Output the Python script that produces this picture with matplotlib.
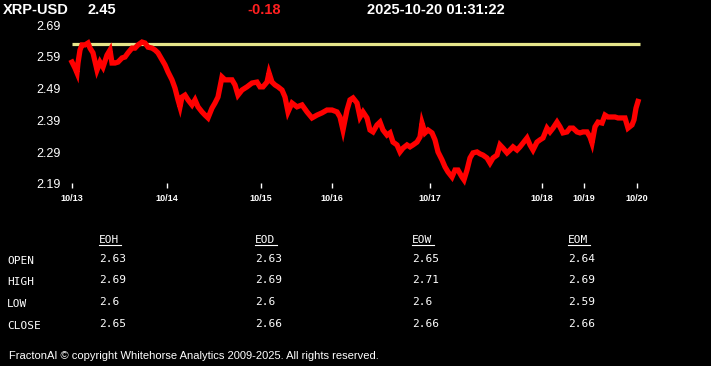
import matplotlib
matplotlib.use("Agg")
import matplotlib.pyplot as plt
from matplotlib.lines import Line2D

# ---------------- data ----------------
symbol = "XRP-USD"
last_price = "2.45"
change = "-0.18"
timestamp = "2025-10-20 01:31:22"

obs = [0, 3, 5, 6, 8, 10, 13, 16, 18, 21, 25, 28, 31, 35, 38, 40, 43, 46, 50, 53,
       56, 60, 63, 66, 70, 73, 76, 80, 83, 86, 90, 93, 96, 100, 103, 106, 108, 110, 113, 116,
       120, 123, 126, 130, 133, 136, 140, 143, 146, 150, 153, 156, 160, 163, 166, 170, 175, 180, 185, 188,
       191, 195, 197, 200, 203, 206, 210, 213, 216, 220, 225, 230, 235, 240, 245, 250, 255, 260, 265, 268,
       271, 275, 278, 281, 285, 288, 291, 295, 298, 301, 305, 308, 311, 315, 318, 321, 325, 328, 331, 335,
       338, 341, 345, 348, 350, 353, 356, 360, 363, 366, 370, 373, 376, 380, 383, 386, 390, 392, 395, 398,
       401, 405, 408, 411, 415, 418, 421, 425, 428, 431, 435, 438, 441, 445, 448, 451, 455, 458, 461, 465,
       468, 471, 475, 478, 481, 485, 488, 491, 495, 498, 501, 505, 508, 511, 515, 518, 520, 523, 526, 530,
       533, 536, 540, 543, 546, 550, 553, 556, 560, 562, 564, 566]
price = [2.574, 2.555, 2.540, 2.571, 2.612, 2.628, 2.628, 2.634, 2.618, 2.603, 2.549, 2.574, 2.558, 2.596, 2.612, 2.571, 2.571, 2.574, 2.587, 2.590,
         2.603, 2.618, 2.618, 2.628, 2.637, 2.634, 2.621, 2.618, 2.612, 2.603, 2.581, 2.565, 2.543, 2.518, 2.492, 2.455, 2.433, 2.464, 2.470, 2.455,
         2.439, 2.455, 2.433, 2.417, 2.407, 2.398, 2.429, 2.445, 2.464, 2.527, 2.518, 2.518, 2.518, 2.502, 2.470, 2.486, 2.496, 2.508, 2.511, 2.496,
         2.496, 2.511, 2.540, 2.511, 2.502, 2.496, 2.486, 2.464, 2.417, 2.445, 2.433, 2.439, 2.417, 2.398, 2.407, 2.414, 2.423, 2.423, 2.417, 2.401,
         2.360, 2.423, 2.455, 2.461, 2.445, 2.401, 2.417, 2.398, 2.360, 2.354, 2.376, 2.385, 2.360, 2.344, 2.351, 2.322, 2.313, 2.291, 2.303, 2.313,
         2.307, 2.313, 2.322, 2.338, 2.382, 2.351, 2.360, 2.351, 2.329, 2.291, 2.266, 2.244, 2.228, 2.212, 2.234, 2.234, 2.212, 2.203, 2.234, 2.272,
         2.288, 2.291, 2.285, 2.281, 2.272, 2.256, 2.272, 2.281, 2.313, 2.303, 2.288, 2.297, 2.307, 2.297, 2.307, 2.319, 2.335, 2.313, 2.297, 2.322,
         2.329, 2.335, 2.366, 2.354, 2.366, 2.385, 2.370, 2.351, 2.354, 2.366, 2.366, 2.354, 2.351, 2.354, 2.354, 2.338, 2.319, 2.370, 2.385, 2.382,
         2.407, 2.401, 2.401, 2.401, 2.398, 2.398, 2.398, 2.366, 2.376, 2.392, 2.429, 2.450]
ref_level = 2.631

x_tick_pos = [0, 95, 189, 260, 358, 470, 512, 565]
x_tick_labels = ["10/13", "10/14", "10/15", "10/16", "10/17", "10/18", "10/19", "10/20"]
y_ticks = [2.19, 2.29, 2.39, 2.49, 2.59, 2.69]

table_cols = ["EOH", "EOD", "EOW", "EOM"]
table_rows = ["OPEN", "HIGH", "LOW", "CLOSE"]
table_vals = {
    "EOH": ["2.63", "2.69", "2.6", "2.65"],
    "EOD": ["2.63", "2.69", "2.6", "2.66"],
    "EOW": ["2.65", "2.71", "2.6", "2.66"],
    "EOM": ["2.64", "2.69", "2.59", "2.66"],
}
footer = "FractonAI \u00a9 copyright Whitehorse Analytics 2009-2025. All rights reserved."

# ---------------- figure ----------------
W, H = 711, 366
fig = plt.figure(figsize=(W / 100, H / 100), dpi=100, facecolor="black")
plt.rcParams["font.family"] = ["Liberation Sans", "DejaVu Sans"]


def fx(px):
    return px / W


def fy(py):
    return 1 - py / H


ax = fig.add_axes([fx(66), fy(188), (646 - 66) / W, (188 - 20) / H])
ax.set_facecolor("black")
for s in ax.spines.values():
    s.set_visible(False)

ax.plot(obs, price, color="#ff0000", lw=3.8, solid_joinstyle="miter", zorder=3)
ax.hlines(ref_level, obs[0], obs[-1] + 2, color="#e6e68a", lw=2.3, zorder=2)

ax.set_xlim(-6, 574)
ax.set_ylim(2.1774, 2.7065)
ax.set_xticks(x_tick_pos)
ax.set_xticklabels(x_tick_labels, fontsize=6.5, fontweight="bold", color="white")
ax.set_yticks(y_ticks)
ax.set_yticklabels([f"{v:.2f}" for v in y_ticks], fontsize=9, color="white")
ax.tick_params(axis="x", direction="in", length=3.5, width=1, color="white", pad=4)
ax.tick_params(axis="y", length=0, pad=4)

# header
hdr = dict(fontsize=10.5, fontweight="bold", va="baseline", ha="left")
fig.text(fx(3), fy(14), symbol, color="white", **hdr)
fig.text(fx(87), fy(14), last_price, color="white", **hdr)
fig.text(fx(247), fy(14), change, color="#ff2020", **hdr)
fig.text(fx(367), fy(14), timestamp, color="white", **hdr)

# table
mono = dict(family="DejaVu Sans Mono", fontsize=8, color="white", va="baseline", ha="left")
col_x = [99, 255, 412, 568]
row_y = [262, 283, 305, 327]
for cx, c in zip(col_x, table_cols):
    fig.text(fx(cx), fy(243), c, **mono)
    fig.add_artist(Line2D([fx(cx), fx(cx + 22)], [fy(245), fy(245)], color="white", lw=0.8))
    for ry, v in zip(row_y, table_vals[c]):
        fig.text(fx(cx), fy(ry), v, **mono)
for ry, r in zip(row_y, table_rows):
    fig.text(fx(7), fy(ry + 2), r, **mono)

fig.text(fx(9), fy(359), footer, fontsize=8, color="white", va="baseline", ha="left")

fig.savefig("out.png", dpi=100, facecolor="black")
